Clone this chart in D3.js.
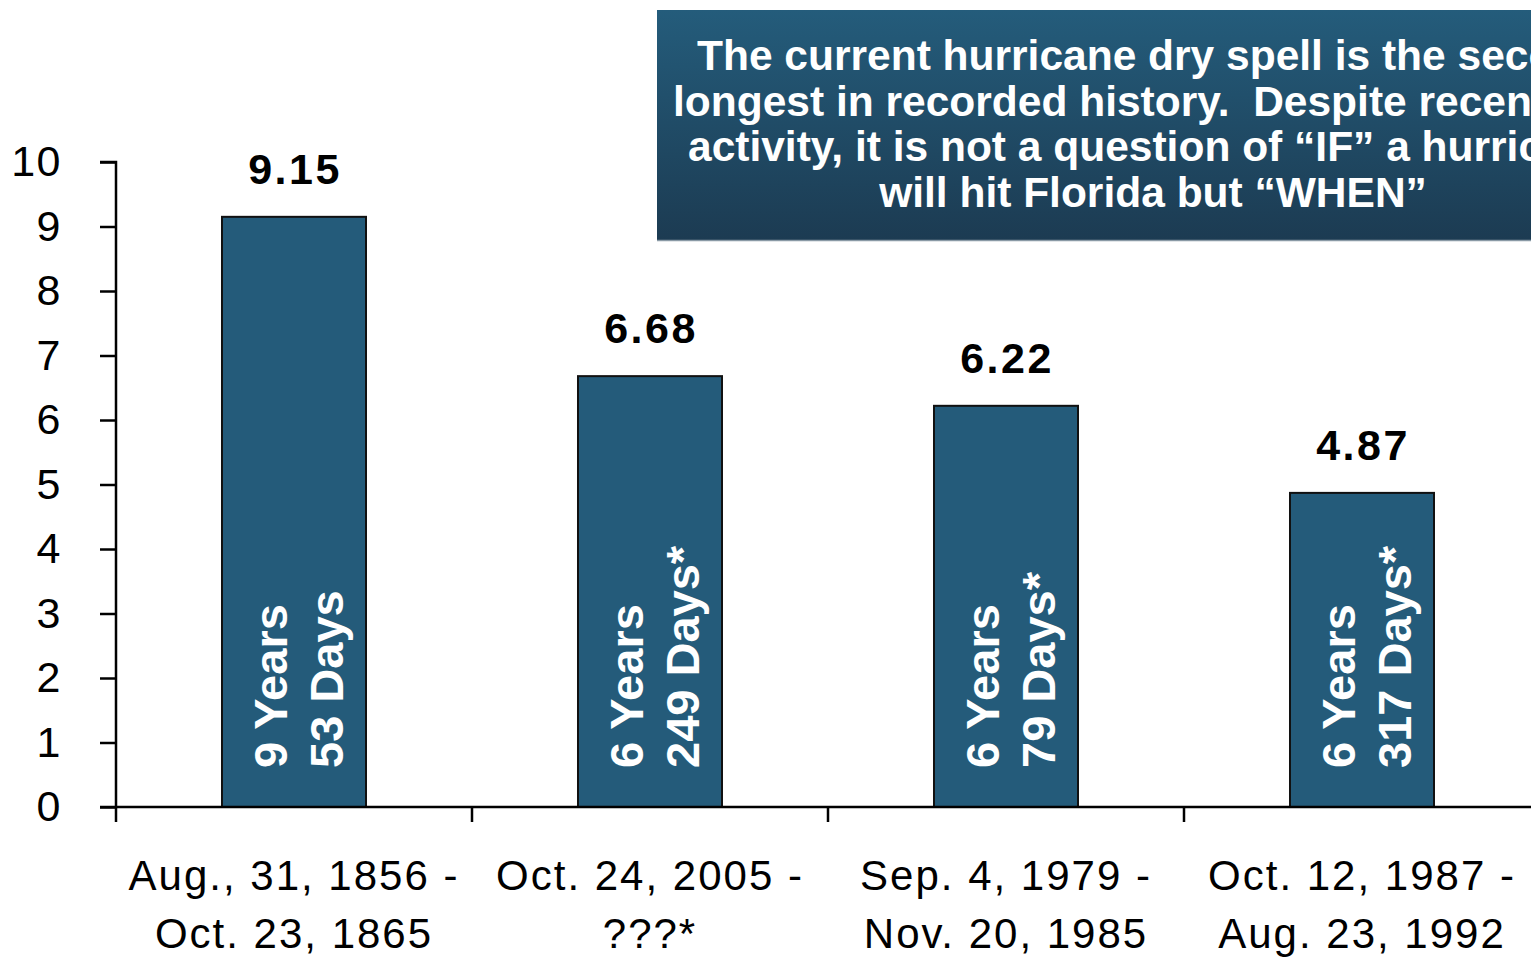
<!DOCTYPE html>
<html><head><meta charset="utf-8">
<script src="https://cdn.jsdelivr.net/npm/d3@7/dist/d3.min.js"></script>
<style>
html,body{margin:0;padding:0;background:#fff;overflow:hidden}
text{font-family:"Liberation Sans",Arial,Helvetica,sans-serif}
</style></head><body>
<svg id="chart" width="1531" height="957"></svg>
<script>
const categories = ["c1","c2","c3","c4"];
const labelLine1 = ["Aug., 31, 1856 -","Oct. 24, 2005 -","Sep. 4, 1979 -","Oct. 12, 1987 -"];
const labelLine2 = ["Oct. 23, 1865","???*","Nov. 20, 1985","Aug. 23, 1992"];
const values = [9.15, 6.68, 6.22, 4.87];
const yearsText = ["9 Years","6 Years","6 Years","6 Years"];
const daysText = ["53 Days","249 Days*","79 Days*","317 Days*"];
const yTicks = [0,1,2,3,4,5,6,7,8,9,10];
const titleLines = [
  "The current hurricane dry spell is the second",
  "longest in recorded history.  Despite recent",
  "activity, it is not a question of \u201CIF\u201D a hurricane",
  "will hit Florida but \u201CWHEN\u201D"
];

const svg = d3.select("#chart");
const barColor = "#245b7a";

const x = d3.scaleBand().domain(categories).range([116, 1540])
  .paddingInner(0.5955).paddingOuter(0.29775);
const y = d3.scaleLinear().domain([0, 10]).range([807, 162]);

// gradient for title box
const defs = svg.append("defs");
const grad = defs.append("linearGradient").attr("id","tg").attr("x1",0).attr("y1",0).attr("x2",0).attr("y2",1);
grad.append("stop").attr("offset","0%").attr("stop-color","#245c7b");
grad.append("stop").attr("offset","100%").attr("stop-color","#1c3b52");
const clip = defs.append("clipPath").attr("id","tbclip");
clip.append("rect").attr("x",657).attr("y",10).attr("width",992).attr("height",230);

// bars
svg.append("g").selectAll("rect").data(categories).join("rect")
  .attr("x", d => x(d)).attr("y", (d,i) => y(values[i]))
  .attr("width", x.bandwidth()).attr("height", (d,i) => y(0) - y(values[i]))
  .attr("fill", barColor).attr("stroke", "#111").attr("stroke-width", 2);

// value labels
svg.append("g").selectAll("text").data(categories).join("text")
  .attr("x", d => x(d) + x.bandwidth()/2 + 1).attr("y", (d,i) => y(values[i]) - 33)
  .attr("text-anchor","middle").attr("font-size",43).attr("font-weight","bold")
  .attr("letter-spacing", 2.5).attr("fill","#000")
  .text((d,i) => values[i].toFixed(2));

// rotated duration labels
const rot = svg.append("g").selectAll("g").data(categories).join("g")
  .attr("transform", d => `translate(${x(d) + x.bandwidth()/2},${y(0) - 39}) rotate(-90)`);
rot.append("text").attr("x",0).attr("y",-7).attr("font-size",47).attr("font-weight","bold")
  .attr("fill","#fff").text((d,i) => yearsText[i]);
rot.append("text").attr("x",0).attr("y",49).attr("font-size",47).attr("font-weight","bold")
  .attr("fill","#fff").text((d,i) => daysText[i]);

// y axis
const yAxis = svg.append("g").attr("transform","translate(116,0)")
  .call(d3.axisLeft(y).tickValues(yTicks).tickSize(16).tickPadding(38).tickFormat(d3.format("d")));
yAxis.select(".domain").attr("stroke","#000").attr("stroke-width",2.5).attr("d","M-16,162H0V807");
yAxis.selectAll(".tick line").attr("stroke","#000").attr("stroke-width",2.5);
yAxis.selectAll(".tick text").attr("font-size",43).attr("fill","#000").attr("letter-spacing",1.5)
  .attr("font-family","'Liberation Sans',Arial,sans-serif");

// x axis
const step = x.step();
const gap = (step - x.bandwidth())/2;
const xAxis = svg.append("g").attr("transform",`translate(0,${y(0)})`);
xAxis.append("line").attr("x1",100).attr("x2",1540).attr("y1",0).attr("y2",0)
  .attr("stroke","#000").attr("stroke-width",2.5);
xAxis.selectAll(".xt").data(categories).join("line").attr("class","xt")
  .attr("x1", d => x(d) - gap).attr("x2", d => x(d) - gap).attr("y1",0).attr("y2",15)
  .attr("stroke","#000").attr("stroke-width",2.5);
const xl = xAxis.selectAll(".xl").data(categories).join("text").attr("class","xl")
  .attr("text-anchor","middle").attr("font-size",42).attr("letter-spacing",2).attr("fill","#000")
  .attr("x", d => x(d) + x.bandwidth()/2);
xl.append("tspan").attr("x", d => x(d) + x.bandwidth()/2).attr("y",83).text((d,i)=>labelLine1[i]);
xl.append("tspan").attr("x", d => x(d) + x.bandwidth()/2).attr("y",141).text((d,i)=>labelLine2[i]);

// title box
const tb = svg.append("g");
tb.append("rect").attr("x",657).attr("y",10).attr("width",992).attr("height",230)
  .attr("fill","url(#tg)");
tb.append("line").attr("x1",657).attr("x2",1649).attr("y1",240.5).attr("y2",240.5)
  .attr("stroke","#8a9aa6").attr("stroke-width",1.5);
// the reference box runs past the right edge; its lines begin at these left edges
const titleStart = [697, 673, 688, null];
tb.append("g").attr("clip-path","url(#tbclip)").selectAll("text").data(titleLines).join("text")
  .attr("x",(d,i)=> titleStart[i] === null ? 1153 : titleStart[i])
  .attr("y",(d,i)=>70 + i*45.7)
  .attr("text-anchor",(d,i)=> titleStart[i] === null ? "middle" : "start")
  .attr("font-size",42.5).attr("font-weight","bold").attr("fill","#fff")
  .style("white-space","pre")
  .text(d=>d);
</script>
</body></html>
